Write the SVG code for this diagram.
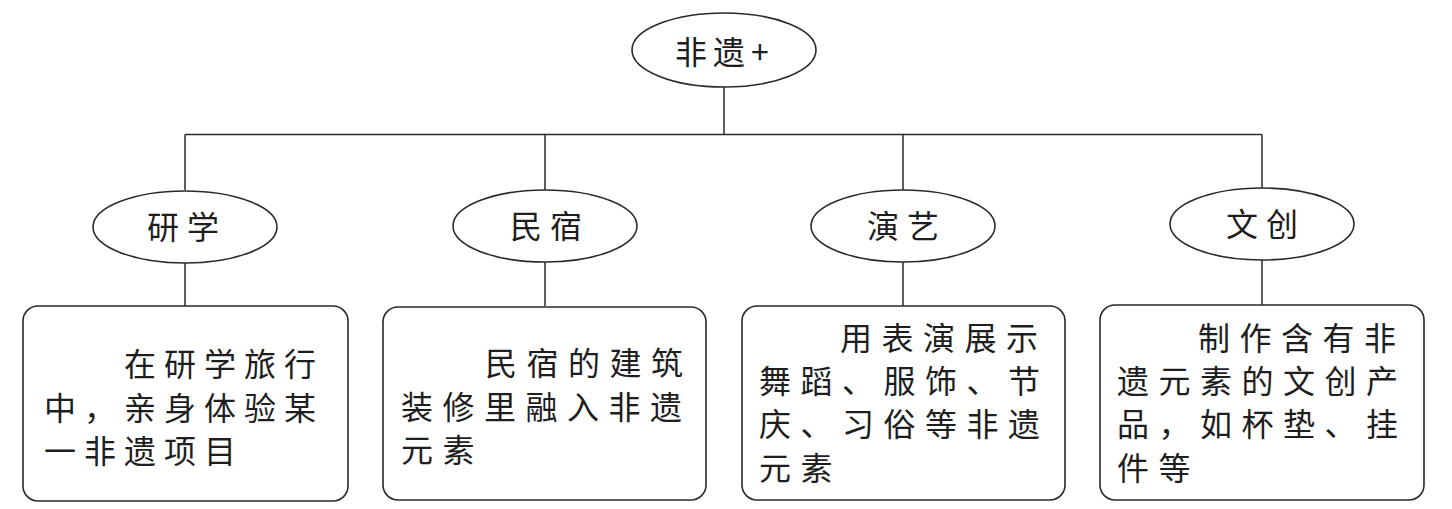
<svg xmlns="http://www.w3.org/2000/svg" width="1452" height="509" viewBox="0 0 1452 509">
<style>
.shape{fill:#fff;stroke:#2a2a2a;stroke-width:1.6}
.line{fill:none;stroke:#2a2a2a;stroke-width:1.5}
.t{font-family:"Noto Sans CJK SC","Noto Sans CJK JP",sans-serif;font-size:32px;fill:#1e1e1e}
.lbl{letter-spacing:8px}
.b1{letter-spacing:8px}
.b2{letter-spacing:9.5px}
</style>
<rect width="1452" height="509" fill="#fff"/>
<g id="connectors">
<line class="line" x1="724" y1="87" x2="724" y2="134.5"/>
<line class="line" x1="185" y1="134.5" x2="1262" y2="134.5"/>
<line class="line" x1="185" y1="134.5" x2="185" y2="190"/>
<line class="line" x1="545" y1="134.5" x2="545" y2="190"/>
<line class="line" x1="903" y1="134.5" x2="903" y2="190"/>
<line class="line" x1="1262" y1="134.5" x2="1262" y2="188"/>
<line class="line" x1="185" y1="263" x2="185" y2="306"/>
<line class="line" x1="545" y1="262" x2="545" y2="306"/>
<line class="line" x1="903" y1="262" x2="903" y2="306"/>
<line class="line" x1="1262" y1="260" x2="1262" y2="305"/>
</g>
<g id="root">
<ellipse class="shape" cx="724" cy="50" rx="92" ry="37"/>
<text class="t" x="675" y="64" letter-spacing="6">非遗+</text>
</g>
<g id="yanxue">
<ellipse class="shape" cx="185" cy="227" rx="92" ry="36"/>
<text class="t lbl" x="147" y="239">研学</text>
</g>
<g id="minsu">
<ellipse class="shape" cx="545" cy="226" rx="92" ry="36"/>
<text class="t lbl" x="510" y="238">民宿</text>
</g>
<g id="yanyi">
<ellipse class="shape" cx="903" cy="226" rx="92" ry="36"/>
<text class="t lbl" x="867" y="238">演艺</text>
</g>
<g id="wenchuang">
<ellipse class="shape" cx="1262" cy="224" rx="92" ry="36"/>
<text class="t lbl" x="1226" y="236">文创</text>
</g>
<g id="box-yanxue">
<rect class="shape" x="23" y="306" width="325" height="195" rx="15"/>
<text class="t b1" x="124" y="376">在研学旅行</text>
<text class="t b1" x="44" y="420">中，亲身体验某</text>
<text class="t b1" x="44" y="463">一非遗项目</text>
</g>
<g id="box-minsu">
<rect class="shape" x="383" y="307" width="323" height="193" rx="15"/>
<text class="t b2" x="485" y="375">民宿的建筑</text>
<text class="t b2" x="401" y="419">装修里融入非遗</text>
<text class="t b2" x="401" y="462">元素</text>
</g>
<g id="box-yanyi">
<rect class="shape" x="742" y="306" width="323" height="194" rx="15"/>
<text class="t b2" x="840" y="350">用表演展示</text>
<text class="t b2" x="759" y="393">舞蹈、服饰、节</text>
<text class="t b2" x="759" y="436">庆、习俗等非遗</text>
<text class="t b2" x="759" y="480">元素</text>
</g>
<g id="box-wenchuang">
<rect class="shape" x="1100" y="305" width="324" height="195" rx="15"/>
<text class="t b2" x="1198" y="350">制作含有非</text>
<text class="t b2" x="1117" y="393">遗元素的文创产</text>
<text class="t b2" x="1117" y="436">品，如杯垫、挂</text>
<text class="t b2" x="1117" y="480">件等</text>
</g>
</svg>
